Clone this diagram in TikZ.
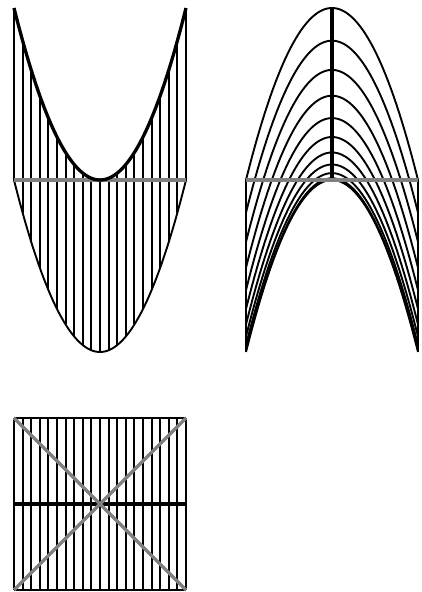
\documentclass[tikz,border=0pt]{standalone}
\begin{document}
\begin{tikzpicture}[x=1pt,y=1pt,
  thinline/.style={line width=1.9pt,black},
  thickline/.style={line width=3.3pt,black},
  thickvert/.style={line width=4pt,black},
  grayline/.style={line width=3.2pt,black!50}]
\useasboundingbox (0,0) rectangle (422,592);
% Panel 1
\begin{scope}[shift={(100pt,412pt)},x=86pt,y=86pt]
  \foreach \i in {-10,...,10}{
    \draw[thinline] ({\i/10},{2*(\i/10)^2-2}) -- ({\i/10},{2*(\i/10)^2});
  }
  \draw[thinline] plot[domain=-1:1,samples=80,smooth] (\x,{2*\x*\x-2});
  \draw[grayline] (-1,0) -- (1,0);
  \draw[thickline] plot[domain=-1:1,samples=80,smooth] (\x,{2*\x*\x});
\end{scope}
% Panel 2
\begin{scope}[shift={(332pt,412pt)},x=86pt,y=86pt]
  \foreach \i in {0,...,10}{
    \draw[thinline] plot[domain=-1:1,samples=80,smooth] (\x,{2*(\i/10)^2-2*\x*\x});
  }
  \draw[thinline] (-1,-2) -- (-1,0);
  \draw[thinline] (1,-2) -- (1,0);
  \draw[thickvert] (0,0) -- (0,2);
  \draw[grayline] (-1,0) -- (1,0);
\end{scope}
% Panel 3
\begin{scope}[shift={(100pt,88pt)},x=86pt,y=86pt]
  \foreach \i in {-10,...,10}{
    \draw[thinline] ({\i/10},-1) -- ({\i/10},1);
  }
  \draw[thinline] (-1,-1) -- (1,-1);
  \draw[thinline] (-1,1) -- (1,1);
  \draw[thickvert] (-1,0) -- (1,0);
  \draw[grayline] (-1,-1) -- (1,1);
  \draw[grayline] (-1,1) -- (1,-1);
\end{scope}
\end{tikzpicture}
\end{document}
